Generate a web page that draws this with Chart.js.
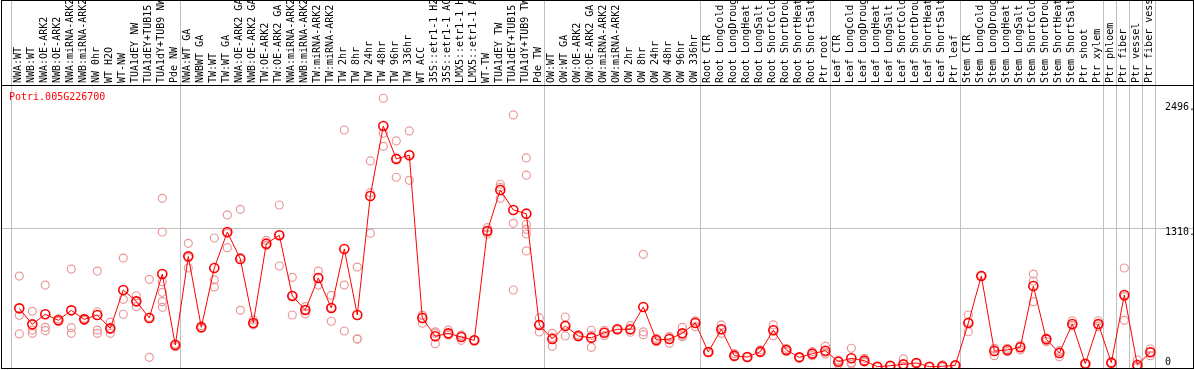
<!DOCTYPE html>
<html>
<head>
<meta charset="utf-8">
<script src="https://cdn.jsdelivr.net/npm/chart.js@4.4.1/dist/chart.umd.min.js"></script>
<style>
html, body { margin: 0; padding: 0; background: #fff; }
#box { position: absolute; left: 1px; top: 0; border: 1px solid #000; width: 1191px; height: 367px; }
canvas { display: block; }
</style>
</head>
<body>
<div id="box"><canvas id="expr-chart" width="1191" height="367"></canvas></div>
<script>
var geneId = 'Potri.005G226700';

var categories = [
    'NWA:WT', 'NWB:WT', 'NWA:OE-ARK2', 'NWB:OE-ARK2', 'NWA:miRNA-ARK2', 'NWB:miRNA-ARK2',
    'NW 0hr', 'WT H2O', 'WT-NW', 'TUA1dEY NW', 'TUA1dEY+TUB15 NW', 'TUA1dY+TUB9 NW', 'Pde NW',
    'NWA:WT GA', 'NWBWT GA', 'TW:WT', 'TW:WT GA', 'NWA:OE-ARK2 GA', 'NWB:OE-ARK2 GA',
    'TW:OE-ARK2', 'TW:OE-ARK2 GA', 'NWA:miRNA-ARK2 GA', 'NWB:miRNA-ARK2 GA', 'TW:miRNA-ARK2',
    'TW:miRNA-ARK2 GA', 'TW 2hr', 'TW 8hr', 'TW 24hr', 'TW 48hr', 'TW 96hr', 'TW 336hr',
    'WT ACC', '35S::etr1-1 H2O', '35S::etr1-1 ACC', 'LMX5::etr1-1 H2O', 'LMX5::etr1-1 ACC',
    'WT-TW', 'TUA1dEY TW', 'TUA1dEY+TUB15 TW', 'TUA1dY+TUB9 TW', 'Pde TW',
    'OW:WT', 'OW:WT GA', 'OW:OE-ARK2', 'OW:OE-ARK2 GA', 'OW:miRNA-ARK2', 'OW:miRNA-ARK2 GA',
    'OW 2hr', 'OW 8hr', 'OW 24hr', 'OW 48hr', 'OW 96hr', 'OW 336hr',
    'Root CTR', 'Root LongCold', 'Root LongDrought', 'Root LongHeat', 'Root LongSalt',
    'Root ShortCold', 'Root ShortDrought', 'Root ShortHeat', 'Root ShortSalt', 'Ptr root',
    'Leaf CTR', 'Leaf LongCold', 'Leaf LongDrought', 'Leaf LongHeat', 'Leaf LongSalt',
    'Leaf ShortCold', 'Leaf ShortDrought', 'Leaf ShortHeat', 'Leaf ShortSalt', 'Ptr leaf',
    'Stem CTR', 'Stem LongCold', 'Stem LongDrought', 'Stem LongHeat', 'Stem LongSalt',
    'Stem ShortCold', 'Stem ShortDrought', 'Stem ShortHeat', 'Stem ShortSalt',
    'Ptr shoot', 'Ptr xylem', 'Ptr phloem', 'Ptr fiber', 'Ptr vessel', 'Ptr fiber vessel'
];

// mean expression (red line)
var means = [
    554, 403, 498, 441, 535, 450, 491, 365, 727, 620, 463, 878, 208,
    1045, 375, 935, 1275, 1020, 416, 1165, 1244, 671, 538, 841, 557,
    1115, 491, 1615, 2276, 1965, 2000, 463, 290, 318, 283, 252,
    1285, 1672, 1483, 1448, 397, 264, 387, 293, 277, 324, 356,
    356, 567, 255, 264, 318, 416, 142, 356, 107, 94, 145, 347, 161, 91, 126, 154,
    50, 82, 60, 3, 12, 25, 38, 3, 7, 16, 416, 860, 151, 161, 186, 765, 261, 132, 406,
    31, 406, 41, 680, 19, 139
];

// single replicates (pale circles)
var replicates = [
    [859, 488, 312], [526, 349, 318], [774, 375, 343], [430, 455, 438], [925, 371, 318],
    [460, 441, 449], [906, 522, 349, 318], [422, 318, 355], [1029, 639, 498], [673, 570, 618],
    [828, 470, 91], [1593, 1275, 806, 705, 617, 564], [192, 215, 217],
    [1168, 935, 1032], [390, 365, 370], [1218, 822, 756], [1436, 1127, 1262], [1489, 535, 1036],
    [444, 406, 398], [1196, 1152, 1147], [1530, 954, 1248], [847, 491, 675], [570, 503, 541],
    [906, 774, 843], [677, 432, 562], [2238, 774, 340], [944, 264, 265], [1946, 1646, 1263],
    [2538, 2207, 2084], [2135, 1792, 1968], [2229, 1763, 2008], [413, 488, 488], [318, 220, 332],
    [349, 302, 303], [302, 252, 295], [252, 248, 256], [1316, 1256, 1283], [1726, 1593, 1697],
    [2380, 1357, 727], [1974, 1811, 1348, 1300, 1256, 1096], [463, 331, 397], [318, 195, 279],
    [472, 293, 396], [305, 290, 284], [347, 186, 298],
    [347, 296, 329], [356, 360, 352], [390, 328, 350], [1064, 305, 332], [271, 239, 255],
    [286, 224, 282], [375, 286, 293], [437, 381, 430], [142, 145, 139], [397, 318, 353],
    [126, 100, 95], [94, 96, 92], [161, 140, 134], [397, 296, 348], [177, 145, 161],
    [91, 93, 89], [145, 107, 126], [198, 140, 124], [66, 25, 59], [177, 28, 41], [82, 44, 54],
    [3, 5, 2], [12, 14, 10],
    [76, 0, 0], [38, 40, 36], [3, 3, 3], [20, 0, 0], [16, 14, 18], [491, 333, 424],
    [860, 855, 865], [177, 107, 169], [177, 145, 161], [208, 161, 189], [878, 812, 617],
    [271, 239, 273], [145, 97, 154], [437, 390, 391], [31, 30, 32], [437, 381, 400],
    [41, 40, 42], [935, 441, 664], [66, 3, 0], [170, 107, 140]
];

var yTicks = [0, 1310, 2496];
var yTickLabels = ['0', '1310.', '2496.'];
// a grey separator is drawn before these categories (89 = after the last one)
var groupStarts = [1, 14, 42, 54, 64, 74, 85, 86, 87, 88, 89];

var xMin = -0.33, xMax = 88.82;
var yMin = -9.4, yMax = 2663;
var mono = 'DejaVu Sans Mono';

var meanPoints = means.map(function (v, i) { return {x: i + 1, y: v}; });
var repPoints = [];
replicates.forEach(function (reps, i) {
    reps.forEach(function (v) { repPoints.push({x: i + 1, y: v}); });
});

function noPadding(s) {
    s.paddingLeft = 0; s.paddingRight = 0; s.paddingTop = 0; s.paddingBottom = 0;
}

// gene id inside the plot + top rule continued over the value column
var geneLabel = {
    id: 'geneLabel',
    afterDraw: function (chart) {
        var ctx = chart.ctx, area = chart.chartArea;
        ctx.save();
        ctx.fillStyle = '#000';
        ctx.fillRect(area.right, area.top, chart.width - area.right, 1);
        ctx.font = '10px "' + mono + '"';
        ctx.fillStyle = '#ff0000';
        ctx.textBaseline = 'middle';
        ctx.fillText(geneId, area.left + 7, area.top + 12);
        ctx.restore();
    }
};

var ctx = document.getElementById('expr-chart');
var exprChart = new Chart(ctx, {
    type: 'scatter',
    data: {
        datasets: [{
            label: 'mean',
            data: meanPoints,
            showLine: true,
            borderColor: '#ff0000',
            borderWidth: 1,
            pointRadius: 4.5,
            pointBorderWidth: 1.6,
            pointBorderColor: '#ff0000',
            pointBackgroundColor: 'rgba(0,0,0,0)',
            order: 0
        }, {
            label: 'replicates',
            data: repPoints,
            showLine: false,
            pointRadius: 4,
            pointBorderWidth: 1.2,
            pointBorderColor: '#eb9898',
            pointBackgroundColor: 'rgba(0,0,0,0)',
            order: 1
        }]
    },
    options: {
        responsive: false,
        animation: false,
        events: [],
        layout: { padding: 0, autoPadding: false },
        plugins: { legend: { display: false }, tooltip: { enabled: false } },
        scales: {
            x: {
                type: 'linear', axis: 'x', position: 'top', min: xMin, max: xMax, weight: 1,
                grid: { display: false, drawTicks: false },
                border: { display: false },
                afterBuildTicks: function (s) {
                    s.ticks = categories.map(function (c, i) { return {value: i + 1}; });
                },
                afterFit: function (s) { s.height = 84; noPadding(s); },
                ticks: {
                    autoSkip: false, minRotation: 90, maxRotation: 90, padding: 2, labelOffset: 11,
                    color: '#000', font: { family: mono, size: 10 },
                    callback: function (v) { return categories[v - 1]; }
                }
            },
            sep: {
                type: 'linear', axis: 'x', position: 'top', min: xMin, max: xMax, weight: 0,
                afterBuildTicks: function (s) {
                    s.ticks = groupStarts.map(function (g) { return {value: g - 0.6}; });
                },
                afterFit: function (s) { s.height = 0; noPadding(s); },
                grid: { color: '#c0c0c0', lineWidth: 1, drawTicks: true, tickLength: 84 },
                border: { display: true, color: '#000', width: 1 },
                ticks: { display: false }
            },
            y: {
                type: 'linear', position: 'right', min: yMin, max: yMax,
                afterBuildTicks: function (s) {
                    s.ticks = yTicks.map(function (v) { return {value: v}; });
                },
                afterFit: function (s) { s.width = 32; noPadding(s); },
                grid: {
                    drawTicks: true, tickLength: 32,
                    color: function (c) {
                        return c.tick && c.tick.value === yTicks[1] ? '#c0c0c0' : 'rgba(0,0,0,0)';
                    }
                },
                border: { display: false },
                ticks: {
                    autoSkip: false, padding: -28, color: '#000',
                    font: { family: mono, size: 10, lineHeight: 0.9 },
                    callback: function (v) {
                        var lab = yTickLabels[yTicks.indexOf(v)];
                        return v === 0 ? [lab, ''] : ['', lab];
                    }
                }
            }
        }
    },
    plugins: [geneLabel]
});
</script>
</body>
</html>
